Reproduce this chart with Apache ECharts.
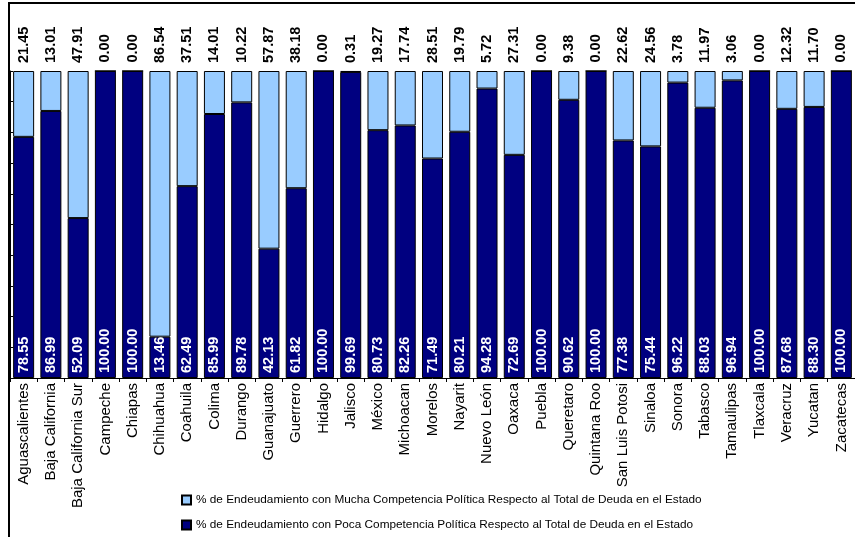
<!DOCTYPE html>
<html>
<head>
<meta charset="utf-8">
<script src="https://cdn.jsdelivr.net/npm/echarts@6/dist/echarts.min.js"></script>
<style>
  html, body { margin: 0; padding: 0; background: #fff; }
  #chart { width: 855px; height: 537px; }
</style>
</head>
<body>
<div id="chart"></div>
<script>
// Debt share by state: high vs low political competition (percent of total state debt)
const categories = [
  'Aguascalientes', 'Baja California', 'Baja California Sur', 'Campeche', 'Chiapas',
  'Chihuahua', 'Coahuila', 'Colima', 'Durango', 'Guanajuato', 'Guerrero', 'Hidalgo',
  'Jalisco', 'México', 'Michoacan', 'Morelos', 'Nayarit', 'Nuevo León', 'Oaxaca',
  'Puebla', 'Queretaro', 'Quintana Roo', 'San Luis Potosi', 'Sinaloa', 'Sonora',
  'Tabasco', 'Tamaulipas', 'Tlaxcala', 'Veracruz', 'Yucatan', 'Zacatecas'
];

const muchaCompetencia = [
  21.45, 13.01, 47.91, 0.00, 0.00, 86.54, 37.51, 14.01, 10.22, 57.87, 38.18, 0.00,
  0.31, 19.27, 17.74, 28.51, 19.79, 5.72, 27.31, 0.00, 9.38, 0.00, 22.62, 24.56,
  3.78, 11.97, 3.06, 0.00, 12.32, 11.70, 0.00
];

const pocaCompetencia = [
  78.55, 86.99, 52.09, 100.00, 100.00, 13.46, 62.49, 85.99, 89.78, 42.13, 61.82, 100.00,
  99.69, 80.73, 82.26, 71.49, 80.21, 94.28, 72.69, 100.00, 90.62, 100.00, 77.38, 75.44,
  96.22, 88.03, 96.94, 100.00, 87.68, 88.30, 100.00
];

const seriesNames = [
  '% de Endeudamiento con Mucha Competencia Política Respecto al Total de Deuda en el Estado',
  '% de Endeudamiento con Poca Competencia Política Respecto al Total de Deuda en el Estado'
];

const FONT = '"Liberation Sans", Arial, sans-serif';

const legendBase = {
  left: 181,
  itemWidth: 9,
  itemHeight: 9,
  padding: 0,
  icon: 'rect',
  textStyle: { fontFamily: FONT, fontSize: 11.8, color: '#000' }
};

const chart = echarts.init(document.getElementById('chart'), null, { renderer: 'canvas' });

chart.setOption({
  animation: false,
  backgroundColor: '#ffffff',
  textStyle: { fontFamily: FONT },
  graphic: [{
    type: 'rect',
    silent: true,
    z: 100,
    shape: { x: 9, y: 3, width: 900, height: 700 },
    style: { fill: 'none', stroke: '#000', lineWidth: 2 }
  }],
  grid: { left: 10, right: -7, top: 71, bottom: 159, containLabel: false },
  legend: [
    Object.assign({}, legendBase, { top: 494, data: [seriesNames[0]] }),
    Object.assign({}, legendBase, { top: 519, data: [seriesNames[1]] })
  ],
  xAxis: {
    type: 'category',
    data: categories,
    axisLine: { show: true, lineStyle: { color: '#000', width: 1 } },
    axisTick: { show: true, length: 4, lineStyle: { color: '#000' } },
    axisLabel: { rotate: 90, margin: 5, fontSize: 15, color: '#000', fontFamily: FONT, interval: 0 }
  },
  yAxis: {
    type: 'value',
    min: 0,
    max: 100,
    interval: 10,
    axisLine: { show: true, lineStyle: { color: '#000', width: 1 } },
    axisTick: { show: true, inside: true, length: 3, lineStyle: { color: '#000' } },
    axisLabel: { show: false },
    splitLine: { show: false }
  },
  series: [
    {
      name: seriesNames[1],
      type: 'bar',
      stack: 'total',
      barWidth: 21,
      data: pocaCompetencia,
      itemStyle: { color: '#000080', borderColor: '#000', borderWidth: 1 },
      label: {
        show: true,
        position: 'insideBottom',
        distance: 5,
        rotate: 90,
        align: 'left',
        verticalAlign: 'middle',
        color: '#ffffff',
        fontWeight: 'bold',
        fontSize: 14.5,
        fontFamily: FONT,
        formatter: p => p.value.toFixed(2)
      }
    },
    {
      name: seriesNames[0],
      type: 'bar',
      stack: 'total',
      barWidth: 21,
      data: muchaCompetencia,
      itemStyle: { color: '#99ccff', borderColor: '#000', borderWidth: 1 },
      label: {
        show: true,
        position: 'top',
        distance: 8,
        rotate: 90,
        align: 'left',
        verticalAlign: 'middle',
        color: '#000',
        fontWeight: 'bold',
        fontSize: 14.5,
        fontFamily: FONT,
        formatter: p => p.value.toFixed(2)
      }
    }
  ]
});
</script>
</body>
</html>
